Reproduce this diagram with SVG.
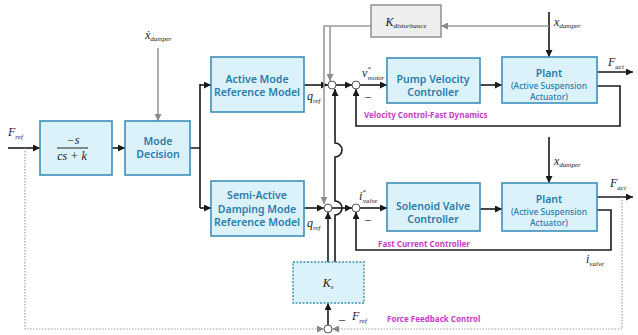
<svg xmlns="http://www.w3.org/2000/svg" width="638" height="335" viewBox="0 0 638 335">
<style>
.box{fill:#dcf2fb;stroke:#3d8fb8;stroke-width:1.6}
.bt{font-family:"Noto Sans","Open Sans",sans-serif;font-weight:600;font-size:10.5px;fill:#2b7bab;text-anchor:middle}
.bs{font-family:"Noto Sans","Open Sans",sans-serif;font-weight:500;font-size:8.5px;fill:#2b7bab;text-anchor:middle}
.m{font-family:"Liberation Serif","Times New Roman",serif;font-style:italic;font-size:12px;fill:#222}
.sub{font-size:7px}
.mag{font-family:"Noto Sans","Open Sans",sans-serif;font-weight:700;font-size:8px;fill:#c83cc8}
.k{fill:none;stroke:#1a1a1a;stroke-width:1.6}
.g{fill:none;stroke:#9a9a9a;stroke-width:1.6}
.d{fill:none;stroke:#a0a0a0;stroke-width:1.2;stroke-dasharray:1.5,1.5}
.j{fill:#fff;stroke:#555;stroke-width:1}
</style>
<defs>
<marker id="ak" viewBox="0 0 10 10" refX="10" refY="5" markerWidth="8" markerHeight="7" markerUnits="userSpaceOnUse" orient="auto"><path d="M0,0 L10,5 L0,10 z" fill="#1a1a1a"/></marker>
<marker id="ag" viewBox="0 0 10 10" refX="10" refY="5" markerWidth="8" markerHeight="7" markerUnits="userSpaceOnUse" orient="auto"><path d="M0,0 L10,5 L0,10 z" fill="#8a8a8a"/></marker>
</defs>
<rect width="638" height="335" fill="#fff"/>

<g id="connectors">
<path class="k" d="M8,148 H40" marker-end="url(#ak)"/>
<path class="k" d="M112,148 H125" marker-end="url(#ak)"/>
<path class="k" d="M190,148 H200 M200,84 V208"/>
<path class="k" d="M200,85 H211" marker-end="url(#ak)"/>
<path class="k" d="M200,208 H211" marker-end="url(#ak)"/>
<path class="k" d="M304,85 H328" marker-end="url(#ak)"/>
<path class="k" d="M336,85 H352" marker-end="url(#ak)"/>
<path class="k" d="M360,85 H387" marker-end="url(#ak)"/>
<path class="k" d="M480,85 H502" marker-end="url(#ak)"/>
<path class="k" d="M597,72 H633" marker-end="url(#ak)"/>
<path class="k" d="M597,86 H620 V126 H356 V89" marker-end="url(#ak)"/>
<path class="k" d="M304,208 H324" marker-end="url(#ak)"/>
<path class="k" d="M332,208 H352" marker-end="url(#ak)"/>
<path class="k" d="M360,208 H387" marker-end="url(#ak)"/>
<path class="k" d="M480,209 H502" marker-end="url(#ak)"/>
<path class="k" d="M597,197 H633" marker-end="url(#ak)"/>
<path class="k" d="M597,210 H611 V250 H356 V212" marker-end="url(#ak)"/>
<path class="k" d="M549,12 V57" marker-end="url(#ak)"/>
<path class="k" d="M549,137 V183" marker-end="url(#ak)"/>
<path class="k" d="M328,262 V212" marker-end="url(#ak)"/>
<path class="k" d="M335,262 V215 a7,7 0 0 0 0,-14 V157 a7,7 0 0 0 0,-14 V89" marker-end="url(#ak)"/>
<path class="k" d="M328,325 V303" marker-end="url(#ak)"/>
<path class="g" d="M549,26 H441" marker-end="url(#ag)"/>
<path class="g" d="M371,26 H324 V204" marker-end="url(#ag)"/>
<path class="g" d="M330,26 V81" marker-end="url(#ag)"/>
<path class="g" d="M158,48 V121" marker-end="url(#ag)"/>
<path class="d" d="M25,148 V329 H324" marker-end="url(#ag)"/>
<path class="d" d="M622,197 V329 H332" marker-end="url(#ag)"/>
</g>

<g id="sum_top1"><circle class="j" cx="332" cy="85" r="4"/></g>
<g id="sum_top2"><circle class="j" cx="356" cy="85" r="4"/></g>
<g id="sum_bot1"><circle class="j" cx="328" cy="208" r="4"/></g>
<g id="sum_bot2"><circle class="j" cx="356" cy="208" r="4"/></g>
<g id="sum_force"><circle class="j" cx="328" cy="329" r="4"/></g>

<g id="tf">
<rect class="box" x="40" y="121" width="72" height="54"/>
<text class="m" x="73" y="144" text-anchor="middle" font-style="normal">−<tspan font-style="italic">s</tspan></text>
<path d="M57,148 H88" stroke="#222" stroke-width="1"/>
<text class="m" x="72" y="160" text-anchor="middle">cs + k</text>
</g>
<g id="mode_decision">
<rect class="box" x="125" y="121" width="65" height="54"/>
<text class="bt" x="158" y="145">Mode</text>
<text class="bt" x="158" y="158">Decision</text>
</g>
<g id="active_model">
<rect class="box" x="211" y="57" width="93" height="55"/>
<text class="bt" x="257" y="83">Active Mode</text>
<text class="bt" x="257" y="96">Reference Model</text>
</g>
<g id="semi_model">
<rect class="box" x="211" y="181" width="93" height="55"/>
<text class="bt" x="257" y="199">Semi-Active</text>
<text class="bt" x="257" y="213">Damping Mode</text>
<text class="bt" x="257" y="226">Reference Model</text>
</g>
<g id="k_disturbance">
<rect x="371" y="5" width="70" height="32" fill="#eeeeee" stroke="#8a8a8a" stroke-width="1.4"/>
<text class="m" x="406" y="26" text-anchor="middle">K<tspan class="sub" dy="2">disturbance</tspan></text>
</g>
<g id="pump_ctrl">
<rect class="box" x="387" y="58" width="93" height="45"/>
<text class="bt" x="433" y="83">Pump Velocity</text>
<text class="bt" x="433" y="96">Controller</text>
</g>
<g id="plant_top">
<rect class="box" x="502" y="57" width="95" height="46"/>
<text class="bt" x="549" y="77" font-size="11">Plant</text>
<text class="bs" x="549" y="89">(Active Suspension</text>
<text class="bs" x="549" y="100">Actuator)</text>
</g>
<g id="solenoid_ctrl">
<rect class="box" x="387" y="183" width="93" height="48"/>
<text class="bt" x="433" y="210">Solenoid Valve</text>
<text class="bt" x="433" y="223">Controller</text>
</g>
<g id="plant_bot">
<rect class="box" x="502" y="183" width="95" height="48"/>
<text class="bt" x="549" y="203" font-size="11">Plant</text>
<text class="bs" x="549" y="215">(Active Suspension</text>
<text class="bs" x="549" y="226">Actuator)</text>
</g>
<g id="ks">
<rect x="293" y="262" width="71" height="41" fill="#dcf2fb" stroke="#3d8fb8" stroke-width="1.4" stroke-dasharray="2,1.5"/>
<text class="m" x="328" y="287" text-anchor="middle">K<tspan class="sub" dy="2">s</tspan></text>
</g>

<g id="labels">
<text class="m" x="8" y="136">F<tspan class="sub" dy="3">ref</tspan></text>
<text class="m" x="145" y="39">ẋ<tspan class="sub" dy="2">damper</tspan></text>
<text class="m" x="307" y="100">q<tspan class="sub" dy="3">ref</tspan></text>
<text class="m" x="362" y="77">v<tspan class="sub" dy="-6">*</tspan><tspan class="sub" dx="-3" dy="9">motor</tspan></text>
<text class="m" x="365" y="100" font-style="normal">–</text>
<text class="m" x="608" y="66">F<tspan class="sub" dy="3">act</tspan></text>
<text class="m" x="554" y="26">x<tspan class="sub" dy="2">damper</tspan></text>
<text class="m" x="554" y="165">x<tspan class="sub" dy="2">damper</tspan></text>
<text class="m" x="307" y="227">q<tspan class="sub" dy="3">ref</tspan></text>
<text class="m" x="359" y="200">i<tspan class="sub" dy="-6">*</tspan><tspan class="sub" dx="-3" dy="9">valve</tspan></text>
<text class="m" x="365" y="223" font-style="normal">–</text>
<text class="m" x="610" y="187">F<tspan class="sub" dy="3">act</tspan></text>
<text class="m" x="586" y="263">i<tspan class="sub" dy="3">valve</tspan></text>
<text class="m" x="339" y="323" font-style="normal" font-size="9">–</text>
<text class="m" x="352" y="320">F<tspan class="sub" dy="3">ref</tspan></text>
<text class="mag" x="364" y="118">Velocity Control-Fast Dynamics</text>
<text class="mag" x="378" y="247">Fast Current Controller</text>
<text class="mag" x="387" y="322">Force Feedback Control</text>
</g>
</svg>
